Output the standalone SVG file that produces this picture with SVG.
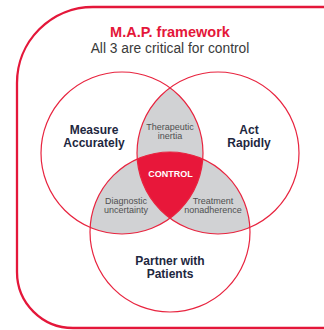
<svg xmlns="http://www.w3.org/2000/svg" width="324" height="330" viewBox="0 0 324 330">
  <style>
    text { font-family: "Liberation Sans", Arial, Helvetica, sans-serif; text-anchor: middle; }
    .title { font-size: 14.5px; font-weight: bold; fill: #e4173a; }
    .subtitle { font-size: 13.8px; fill: #3a3a3a; }
    .pillar { font-size: 12px; font-weight: bold; fill: #1e2740; }
    .overlap { font-size: 9px; fill: #505050; }
    .core { font-size: 9px; font-weight: bold; fill: #ffffff; }
    .ring { fill: none; stroke: #e8243f; stroke-width: 1.2; }
    .shared { fill: #d1d2d4; }
    .frame { fill: none; stroke: #e4173a; stroke-width: 2.3; }
  </style>
  <defs>
    <clipPath id="clip-measure"><circle cx="122" cy="153" r="81"/></clipPath>
    <clipPath id="clip-act"><circle cx="218" cy="153" r="81"/></clipPath>
    <clipPath id="clip-partner"><circle cx="170" cy="232" r="80"/></clipPath>
  </defs>

  <rect width="324" height="330" fill="#ffffff"/>

  <!-- rounded outer panel, open past the right edge -->
  <path class="frame" d="M 340 7 L 93 7 A 76 76 0 0 0 17 83 L 17 272 A 56 56 0 0 0 73 328 L 340 328"/>

  <g id="heading">
    <text class="title" x="170" y="36.5">M.A.P. framework</text>
    <text class="subtitle" x="170" y="53">All 3 are critical for control</text>
  </g>

  <!-- pairwise overlaps in grey -->
  <g id="overlaps">
    <circle class="shared" cx="218" cy="153" r="81" clip-path="url(#clip-measure)"/>
    <circle class="shared" cx="170" cy="232" r="80" clip-path="url(#clip-measure)"/>
    <circle class="shared" cx="170" cy="232" r="80" clip-path="url(#clip-act)"/>
  </g>

  <!-- centre where all three meet -->
  <g id="control" clip-path="url(#clip-measure)">
    <circle cx="170" cy="232" r="80" fill="#e8173a" clip-path="url(#clip-act)"/>
  </g>

  <g id="measure-accurately">
    <circle class="ring" cx="122" cy="153" r="81"/>
    <text class="pillar" x="94" y="134">Measure</text>
    <text class="pillar" x="94" y="147">Accurately</text>
  </g>

  <g id="act-rapidly">
    <circle class="ring" cx="218" cy="153" r="81"/>
    <text class="pillar" x="249" y="134">Act</text>
    <text class="pillar" x="249" y="147">Rapidly</text>
  </g>

  <g id="partner-with-patients">
    <circle class="ring" cx="170" cy="232" r="80"/>
    <text class="pillar" x="170" y="265">Partner with</text>
    <text class="pillar" x="170" y="278">Patients</text>
  </g>

  <g id="labels-overlap">
    <text class="overlap" x="170" y="130">Therapeutic</text>
    <text class="overlap" x="170" y="139">inertia</text>
    <text class="overlap" x="126" y="204">Diagnostic</text>
    <text class="overlap" x="126" y="213">uncertainty</text>
    <text class="overlap" x="213" y="204">Treatment</text>
    <text class="overlap" x="213" y="213">nonadherence</text>
    <text class="core" x="170.5" y="177">CONTROL</text>
  </g>
</svg>
